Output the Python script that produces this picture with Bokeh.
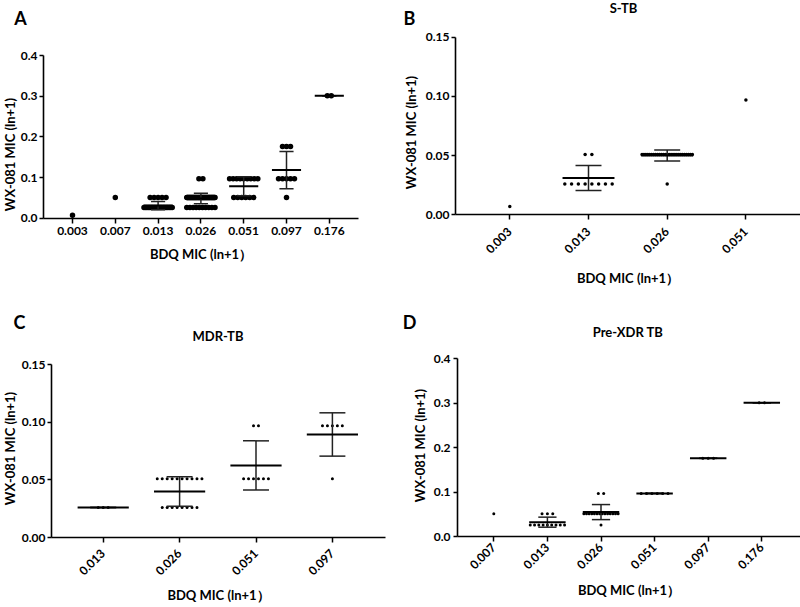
import math
import numpy as np
from bokeh.plotting import figure
from bokeh.models import Range1d, FixedTicker, PrintfTickFormatter, Label, LinearAxis
from bokeh.embed import file_html
from bokeh.resources import INLINE

FONT = "Lato"
X_TITLE = "BDQ MIC (ln+1\uff09"
Y_TITLE = "WX-081 MIC (ln+1)"

# ---------------- data: (WX-081 value, number of isolates) per BDQ category ----------------
A_CATS = ["0.003", "0.007", "0.013", "0.026", "0.051", "0.097", "0.176"]
A_GROUPS = [
    [(0.007, 1)],
    [(0.051, 1)],
    [(0.026, 20), (0.051, 5)],
    [(0.026, 10), (0.051, 51), (0.097, 2)],
    [(0.051, 6), (0.097, 9)],
    [(0.051, 1), (0.097, 5), (0.176, 3)],
    [(0.301, 2)],
]
B_CATS = ["0.003", "0.013", "0.026", "0.051"]
B_GROUPS = [
    [(0.007, 1)],
    [(0.026, 8), (0.051, 2)],
    [(0.026, 1), (0.051, 27)],
    [(0.097, 1)],
]
C_CATS = ["0.013", "0.026", "0.051", "0.097"]
C_GROUPS = [
    [(0.026, 3)],
    [(0.026, 8), (0.051, 10)],
    [(0.051, 6), (0.097, 2)],
    [(0.051, 1), (0.097, 5)],
]
D_CATS = ["0.007", "0.013", "0.026", "0.051", "0.097", "0.176"]
D_GROUPS = [
    [(0.051, 1)],
    [(0.026, 9), (0.051, 3)],
    [(0.026, 1), (0.051, 14), (0.097, 2)],
    [(0.097, 6)],
    [(0.176, 3)],
    [(0.301, 2)],
]
Y_TICKS_WIDE = [0.0, 0.1, 0.2, 0.3, 0.4]
Y_TICKS_NARROW = [0.0, 0.05, 0.10, 0.15]
TITLES = ["", "S-TB", "MDR-TB", "Pre-XDR TB"]
LETTERS = ["A", "B", "C", "D"]

# ---------------- canvas in page pixel coordinates ----------------
W, H = 800, 607

p = figure(width=W, height=H, x_range=Range1d(0, W), y_range=Range1d(H, 0),
           output_backend="svg", toolbar_location=None, min_border=0,
           x_axis_location=None, y_axis_location=None)
p.outline_line_color = None
p.background_fill_color = "white"
p.border_fill_color = "white"
p.grid.visible = False

extra_x, extra_y = {}, {}


def style_axis(ax):
    ax.axis_line_width = 1.6
    ax.axis_line_color = "black"
    ax.major_tick_line_color = "black"
    ax.major_tick_line_width = 1.5
    ax.major_tick_in = 0
    ax.minor_tick_line_color = None
    ax.major_label_text_font = FONT
    ax.major_label_text_font_style = "bold"
    ax.major_label_text_font_size = "12px"
    ax.major_label_text_color = "black"
    ax.axis_label_text_font = FONT
    ax.axis_label_text_font_style = "bold"
    ax.axis_label_text_font_size = "13px"
    ax.axis_label_text_color = "black"


def text(x, y, s, size, angle=0.0):
    p.add_layout(Label(x=x, y=y, text=s, angle=angle, text_align="center", text_baseline="middle",
                       text_font=FONT, text_font_style="bold", text_font_size=size,
                       text_color="black"))


def panel(name, cats, groups, yticks, yfmt, title, letter, g):
    ax_x, zero_y, top_y, right_x = g["axes"]
    t0, sp = g["tick0"], g["spacing"]
    ymax = yticks[-1]
    k = (zero_y - top_y) / ymax
    xn, yn = name + "_x", name + "_y"
    extra_x[xn] = Range1d((0 - t0) / sp, (W - t0) / sp)
    extra_y[yn] = Range1d((zero_y - H) / k, zero_y / k)

    xs, ys = [], []
    mx, my, sdv = [], [], []
    for i, grp in enumerate(groups):
        vals = []
        for v, n in grp:
            step = g["dot_step"]
            if n > 1:
                step = min(step, 2 * g["max_hw"] / (n - 1))
            for j in range(n):
                xs.append(i + (j - (n - 1) / 2) * step)
                ys.append(v)
            vals += [v] * n
        if len(vals) > 1:
            arr = np.array(vals)
            mx.append(i)
            my.append(arr.mean())
            sdv.append(arr.std(ddof=1))
    rn = dict(x_range_name=xn, y_range_name=yn)
    p.scatter(xs, ys, size=g["dot"], color="black", line_color=None, **rn)
    mx = np.array(mx, dtype=float)
    my = np.array(my)
    sdv = np.array(sdv)
    lc = "#222222"
    cap = g["sd_cap"]
    p.segment(mx - cap, my + sdv, mx + cap, my + sdv, line_color=lc, line_width=1.5, **rn)
    p.segment(mx - cap, my - sdv, mx + cap, my - sdv, line_color=lc, line_width=1.5, **rn)
    p.segment(mx, my - sdv, mx, my + sdv, line_color=lc, line_width=1.5, **rn)
    p.segment(mx - g["mean_hw"], my, mx + g["mean_hw"], my, line_color="black", line_width=2, **rn)

    xa = LinearAxis(fixed_location=0.0, bounds=((ax_x - t0) / sp, (right_x - t0) / sp),
                    ticker=FixedTicker(ticks=list(range(len(cats)))),
                    major_label_overrides={i: c for i, c in enumerate(cats)},
                    axis_label=X_TITLE, **rn)
    style_axis(xa)
    xa.major_tick_out = 5
    xa.major_label_standoff = g["xl_standoff"]
    xa.axis_label_standoff = g["xt_standoff"]
    if g["rotate"]:
        xa.major_label_orientation = math.pi / 4
    p.add_layout(xa, "below")

    ya = LinearAxis(fixed_location=(ax_x - t0) / sp, bounds=(0, ymax),
                    ticker=FixedTicker(ticks=yticks),
                    formatter=PrintfTickFormatter(format=yfmt), **rn)
    style_axis(ya)
    ya.major_tick_out = 4
    ya.major_label_standoff = g["yl_standoff"]
    p.add_layout(ya, "left")

    yx, yy = g["ytitle"]
    text(yx, yy, Y_TITLE, "13px", angle=math.pi / 2)
    lx, ly = g["letter"]
    text(lx, ly, letter, "18px")
    if title:
        tx, ty = g["title"]
        text(tx, ty, title, "13px")


# axes: (y-axis x position, y of value 0, y of top tick, right end of x axis), page pixels
GEO_A = dict(axes=(43, 217.7, 55, 358), tick0=72, spacing=42.8,
             dot=5.5, dot_step=0.093, max_hw=0.33, mean_hw=0.34, sd_cap=0.165,
             xl_standoff=4, xt_standoff=7, yl_standoff=2, rotate=False,
             ytitle=(9, 154), letter=(20, 17), title=None)
GEO_B = dict(axes=(455, 214.3, 36.7, 800), tick0=509.3, spacing=78.7,
             dot=3.5, dot_step=0.086, max_hw=0.32, mean_hw=0.33, sd_cap=0.165,
             xl_standoff=10, xt_standoff=10, yl_standoff=2, rotate=True,
             ytitle=(410, 132), letter=(409, 17.5), title=(623, 7.5))
GEO_C = dict(axes=(51, 537, 364, 385), tick0=102.7, spacing=76.4,
             dot=3.0, dot_step=0.065, max_hw=0.33, mean_hw=0.335, sd_cap=0.17,
             xl_standoff=9, xt_standoff=5, yl_standoff=2, rotate=True,
             ytitle=(9, 448), letter=(19, 321), title=(217.5, 335))
GEO_D = dict(axes=(457, 536, 358.3, 800), tick0=493.3, spacing=53.6,
             dot=3.0, dot_step=0.1, max_hw=0.32, mean_hw=0.34, sd_cap=0.17,
             xl_standoff=4, xt_standoff=6, yl_standoff=3, rotate=True,
             ytitle=(419, 445), letter=(409, 321), title=(627.5, 331))

panel("a", A_CATS, A_GROUPS, Y_TICKS_WIDE, "%.1f", TITLES[0], LETTERS[0], GEO_A)
panel("b", B_CATS, B_GROUPS, Y_TICKS_NARROW, "%.2f", TITLES[1], LETTERS[1], GEO_B)
panel("c", C_CATS, C_GROUPS, Y_TICKS_NARROW, "%.2f", TITLES[2], LETTERS[2], GEO_C)
panel("d", D_CATS, D_GROUPS, Y_TICKS_WIDE, "%.1f", TITLES[3], LETTERS[3], GEO_D)

p.extra_x_ranges = extra_x
p.extra_y_ranges = extra_y

open("out.html", "w").write(file_html(p, INLINE))
